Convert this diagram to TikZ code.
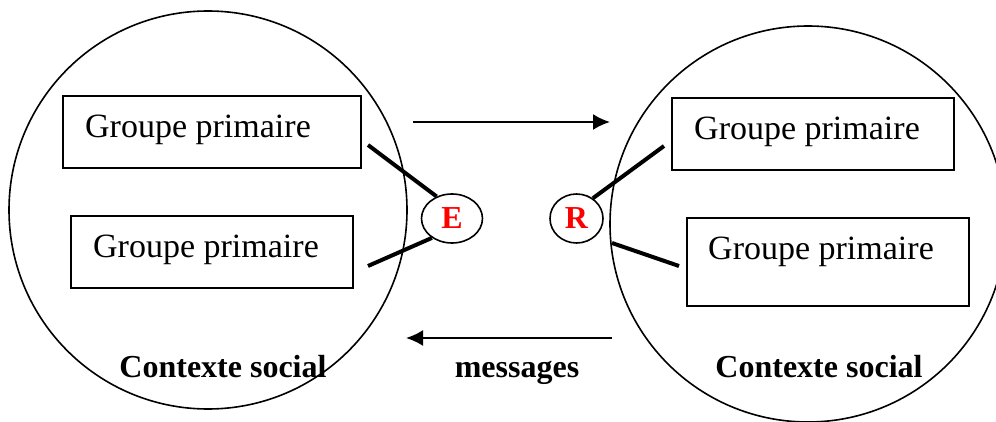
\documentclass[tikz,border=0pt]{standalone}
\usepackage{fontspec}
\setmainfont{Liberation Serif}
\usetikzlibrary{shapes.geometric,arrows.meta}
\begin{document}
\begin{tikzpicture}[x=1pt,y=-1pt,
  ctx/.style={circle,draw,line width=1.6pt,minimum size=398pt,inner sep=0pt},
  gbox/.style={rectangle,draw,line width=2pt,inner sep=0pt},
  gtext/.style={font=\fontsize{34}{38}\selectfont,inner sep=0pt,anchor=base west},
  ctxt/.style={font=\fontsize{32}{36}\selectfont\bfseries,inner sep=0pt,anchor=base},
  actor/.style={ellipse,draw,line width=1.6pt,inner sep=0pt,text=red,font=\fontsize{32}{36}\selectfont\bfseries},
  link/.style={line width=4pt},
  flow/.style={line width=2pt,-{Latex[length=17pt,width=16pt]}}]
\useasboundingbox (0,0) rectangle (996,422);
\begin{scope}
\clip (0,0) rectangle (996,422);
% circles
\node[ctx] (cl) at (208,210) {};
\node[ctx,minimum size=396pt] (cr) at (808,224) {};
% left boxes
\node[gbox,minimum width=298pt,minimum height=72pt] (bl1) at (212,132) {};
\node[gbox,minimum width=282pt,minimum height=72pt] (bl2) at (212,252) {};
\node[gtext] (tl1) at (85,138) {Groupe primaire};
\node[gtext] (tl2) at (93,258) {Groupe primaire};
% right boxes
\node[gbox,minimum width=282pt,minimum height=72pt] (br1) at (813,134) {};
\node[gbox,minimum width=282pt,minimum height=88pt] (br2) at (828,262) {};
\node[gtext] (tr1) at (694,140) {Groupe primaire};
\node[gtext] (tr2) at (708,259) {Groupe primaire};
% actors
\node[actor,minimum width=61pt,minimum height=49pt] (E) at (452,218.5) {E};
\node[actor,minimum width=53pt,minimum height=49pt] (R) at (576.5,218.5) {R};
% links
\coordinate (a1) at (368,145);
\coordinate (a2) at (368,266);
\coordinate (b1) at (664,146);
\coordinate (b0) at (612,243);
\coordinate (b2) at (679,266);
\draw[link] (a1) -- (E.125);
\draw[link] (a2) -- (E.224);
\draw[link] (R.51) -- (b1);
\draw[link] (b0) -- (b2);
% message arrows
\coordinate (m1s) at (413,122);
\coordinate (m1e) at (610,122);
\coordinate (m2s) at (612,338);
\coordinate (m2e) at (406,338);
\draw[flow] (m1s) -- (m1e);
\draw[flow] (m2s) -- (m2e);
% labels
\node[ctxt] (cs1) at (223,377) {Contexte social};
\node[ctxt] (msg) at (517,377) {messages};
\node[ctxt] (cs2) at (819,377) {Contexte social};
\end{scope}
\end{tikzpicture}
\end{document}
